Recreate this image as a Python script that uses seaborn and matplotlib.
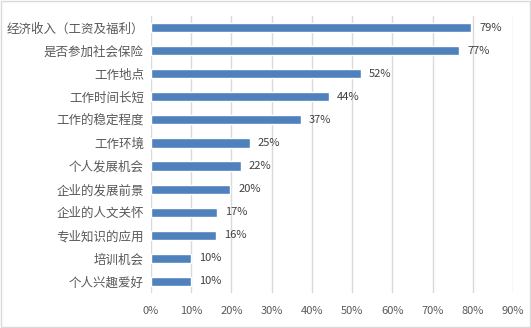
import matplotlib
matplotlib.use("Agg")
import matplotlib.pyplot as plt
import seaborn as sns
import pandas as pd

categories = ["经济收入（工资及福利）", "是否参加社会保险", "工作地点", "工作时间长短",
              "工作的稳定程度", "工作环境", "个人发展机会", "企业的发展前景",
              "企业的人文关怀", "专业知识的应用", "培训机会", "个人兴趣爱好"]
values = [0.796, 0.766, 0.522, 0.443, 0.373, 0.246, 0.223, 0.197, 0.164, 0.162, 0.100, 0.100]
labels = ["79%", "77%", "52%", "44%", "37%", "25%", "22%", "20%", "17%", "16%", "10%", "10%"]
xticks = [0, 0.1, 0.2, 0.3, 0.4, 0.5, 0.6, 0.7, 0.8, 0.9]
xticklabels = ["0%", "10%", "20%", "30%", "40%", "50%", "60%", "70%", "80%", "90%"]

sns.set_theme(style="white")
plt.rcParams['font.family'] = ['Noto Sans CJK SC', 'DejaVu Sans']

df = pd.DataFrame({"cat": categories, "val": values})
fig = plt.figure(figsize=(5.31, 3.28), dpi=100)
ax = fig.add_axes([151/531, 1-293/328, (513-151)/531, (293-16)/328])
sns.barplot(data=df, x="val", y="cat", orient="h", color="#4F81BD", saturation=1,
            width=0.4, ax=ax)
ax.set_xlim(0, 0.9)
ax.set_ylim(11.5, -0.5)
ax.set_xticks(xticks)
ax.set_xticklabels(xticklabels)
ax.grid(axis="x", color="#D9D9D9", linewidth=1)
ax.set_axisbelow(True)
for s in ax.spines.values():
    s.set_visible(False)
ax.set_xlabel("")
ax.set_ylabel("")
ax.tick_params(axis="both", length=0, colors="#595959")
ax.tick_params(axis="x", labelsize=8, pad=9)
ax.tick_params(axis="y", labelsize=9, pad=5)
for i, (v, lab) in enumerate(zip(values, labels)):
    ax.text(v + 0.02, i, lab, va="center", ha="left", fontsize=8, color="#404040")

fig.patch.set_facecolor("white")
fig.patches.append(plt.Rectangle((0.001, 0.002), 0.997, 0.995, transform=fig.transFigure,
                                 fill=False, edgecolor="#D9D9D9", linewidth=1))
fig.savefig("out.png", dpi=100)
